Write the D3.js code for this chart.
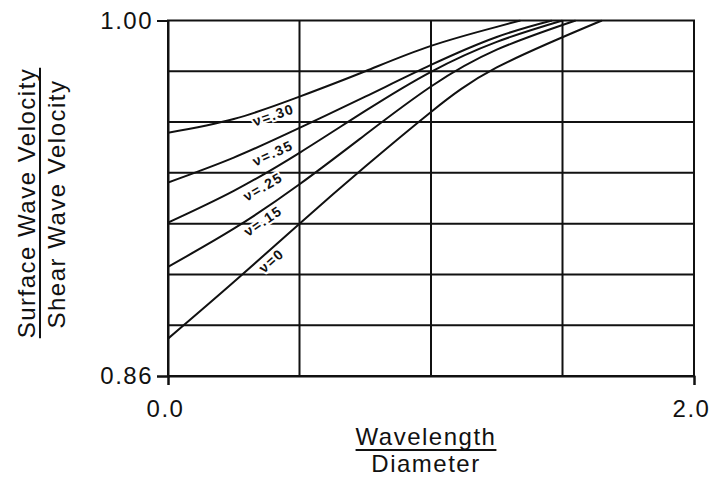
<!DOCTYPE html>
<html>
<head>
<meta charset="utf-8">
<script src="https://cdn.jsdelivr.net/npm/d3@7"></script>
<style>
  html, body { margin: 0; padding: 0; background: #fff; }
  svg { display: block; }
  text { font-family: "Liberation Sans", Arial, Helvetica, sans-serif; fill: #111; }
</style>
</head>
<body>
<svg id="chart" width="709" height="479"></svg>
<script>
// Ratio of surface-wave to shear-wave velocity against wavelength / diameter,
// one curve per Poisson's ratio.
const xTicks = [0.0, 2.0];
const yTicks = [0.86, 1.00];
const xGridValues = [0.5, 1.0, 1.5];
const yGridValues = [0.88, 0.90, 0.92, 0.94, 0.96, 0.98];

const poissonLabels = ["ν=.30", "ν=.35", "ν=.25", "ν=.15", "ν=0"];

const xNu30 = [0, 0.25, 0.5, 0.75, 1.0, 1.25, 1.34];
const yNu30 = [0.9558, 0.9612, 0.9700, 0.9800, 0.9900, 0.9975, 1.00];
const xNu35 = [0, 0.25, 0.5, 0.75, 1.0, 1.25, 1.46];
const yNu35 = [0.9362, 0.9460, 0.9577, 0.9700, 0.9825, 0.9935, 1.00];
const xNu25 = [0, 0.25, 0.5, 0.75, 1.0, 1.25, 1.50];
const yNu25 = [0.9204, 0.9329, 0.9479, 0.9644, 0.9798, 0.9916, 1.00];
const xNu15 = [0, 0.25, 0.5, 0.75, 1.0, 1.25, 1.55];
const yNu15 = [0.9030, 0.9180, 0.9355, 0.9550, 0.9740, 0.9885, 1.00];
const xNu0  = [0, 0.25, 0.5, 0.75, 1.0, 1.25, 1.65];
const yNu0  = [0.8747, 0.8970, 0.9200, 0.9425, 0.9640, 0.9815, 1.00];

const curves = [
  { label: poissonLabels[0], xs: xNu30, ys: yNu30 },
  { label: poissonLabels[1], xs: xNu35, ys: yNu35 },
  { label: poissonLabels[2], xs: xNu25, ys: yNu25 },
  { label: poissonLabels[3], xs: xNu15, ys: yNu15 },
  { label: poissonLabels[4], xs: xNu0,  ys: yNu0  }
];
// where along each curve its label sits (x in data units) and how far below it
const labelAt = [0.39, 0.38, 0.34, 0.34, 0.37];
const labelGap = [9, 12, 11, 10, 9];

const svg = d3.select("#chart");
const plotLeft = 168, plotRight = 694, plotTop = 20.5, plotBottom = 376;
const x = d3.scaleLinear().domain([0, 2]).range([plotLeft, plotRight]);
const y = d3.scaleLinear().domain([0.86, 1.00]).range([plotBottom, plotTop]);

const ink = "#111";

// grid
const grid = svg.append("g").attr("stroke", ink).attr("stroke-width", 2);
grid.selectAll("line.v").data(xGridValues).join("line")
  .attr("class", "v")
  .attr("x1", d => x(d)).attr("x2", d => x(d))
  .attr("y1", plotTop).attr("y2", plotBottom);
grid.selectAll("line.h").data(yGridValues).join("line")
  .attr("class", "h")
  .attr("x1", plotLeft).attr("x2", plotRight)
  .attr("y1", d => y(d)).attr("y2", d => y(d));
grid.append("rect")
  .attr("x", plotLeft).attr("y", plotTop)
  .attr("width", plotRight - plotLeft).attr("height", plotBottom - plotTop)
  .attr("fill", "none");

// axes with end ticks only
const fontTick = 24;
const yAxis = svg.append("g").attr("transform", `translate(${plotLeft},0)`)
  .call(d3.axisLeft(y).tickValues(yTicks).tickFormat(d3.format(".2f"))
        .tickSize(11).tickPadding(4));
const xAxis = svg.append("g").attr("transform", `translate(0,${plotBottom})`)
  .call(d3.axisBottom(x).tickValues(xTicks).tickFormat(d3.format(".1f"))
        .tickSize(9).tickPadding(15));
[yAxis, xAxis].forEach(g => {
  g.select(".domain").attr("stroke", ink).attr("stroke-width", 2);
  g.selectAll(".tick line").attr("stroke", ink).attr("stroke-width", 2);
  g.selectAll(".tick text")
    .attr("fill", ink)
    .style("font-size", fontTick + "px")
    .style("letter-spacing", "1.5px")
    .style("font-family", '"Liberation Sans", Arial, sans-serif');
});
xAxis.selectAll(".tick text").attr("dx", "-3px");

// curves
const line = d3.line().x(d => x(d[0])).y(d => y(d[1])).curve(d3.curveNatural);
svg.append("clipPath").attr("id", "plot")
  .append("rect").attr("x", plotLeft).attr("y", plotTop - 1)
  .attr("width", plotRight - plotLeft).attr("height", plotBottom - plotTop + 1);

const curveG = svg.append("g").attr("clip-path", "url(#plot)");
curves.forEach(c => {
  const pts = c.xs.map((v, i) => [v, c.ys[i]]);
  curveG.append("path")
    .attr("d", line(pts))
    .attr("fill", "none")
    .attr("stroke", ink)
    .attr("stroke-width", 2);
});

// curve labels, rotated to the local slope, sitting under each curve
curves.forEach((c, i) => {
  const pts = c.xs.map((v, k) => [v, c.ys[k]]);
  const interp = xv => {
    for (let k = 0; k < pts.length - 1; k++) {
      if (xv >= pts[k][0] && xv <= pts[k + 1][0]) {
        const t = (xv - pts[k][0]) / (pts[k + 1][0] - pts[k][0]);
        return pts[k][1] + t * (pts[k + 1][1] - pts[k][1]);
      }
    }
    return pts[pts.length - 1][1];
  };
  const xa = labelAt[i];
  const px = x(xa), py = y(interp(xa));
  const px2 = x(xa + 0.05), py2 = y(interp(xa + 0.05));
  const ang = Math.atan2(py2 - py, px2 - px);
  const nx = -Math.sin(ang), ny = Math.cos(ang);
  const cx = px + nx * labelGap[i], cy = py + ny * labelGap[i];
  svg.append("text")
    .attr("transform", `translate(${cx},${cy}) rotate(${ang * 180 / Math.PI})`)
    .attr("text-anchor", "middle")
    .attr("dy", "0.35em")
    .style("font-size", "14px")
    .style("font-weight", "bold")
    .style("letter-spacing", "1.5px")
    .style("paint-order", "stroke")
    .style("stroke", "#fff")
    .style("stroke-width", "4px")
    .text(c.label);
});

// y-axis title as a fraction
const yMid = 203;
const yNum = svg.append("text")
  .attr("transform", `translate(35,${yMid}) rotate(-90)`)
  .attr("text-anchor", "middle")
  .style("font-size", "24px").style("letter-spacing", "1.5px")
  .text("Surface Wave Velocity");
svg.append("text")
  .attr("transform", `translate(65,${yMid + 1}) rotate(-90)`)
  .attr("text-anchor", "middle")
  .style("font-size", "24px").style("letter-spacing", "1.5px")
  .text("Shear Wave Velocity");
const yLen = yNum.node().getComputedTextLength();
svg.append("line")
  .attr("x1", 40).attr("x2", 40)
  .attr("y1", yMid - yLen / 2).attr("y2", yMid + yLen / 2)
  .attr("stroke", ink).attr("stroke-width", 2);

// x-axis title as a fraction
const xMid = 426;
const xNum = svg.append("text")
  .attr("x", xMid).attr("y", 445)
  .attr("text-anchor", "middle")
  .style("font-size", "24px").style("letter-spacing", "1.5px")
  .text("Wavelength");
svg.append("text")
  .attr("x", xMid).attr("y", 472)
  .attr("text-anchor", "middle")
  .style("font-size", "24px").style("letter-spacing", "1.5px")
  .text("Diameter");
const xLen = xNum.node().getComputedTextLength();
svg.append("line")
  .attr("x1", xMid - xLen / 2).attr("x2", xMid + xLen / 2)
  .attr("y1", 450).attr("y2", 450)
  .attr("stroke", ink).attr("stroke-width", 2);
</script>
</body>
</html>
